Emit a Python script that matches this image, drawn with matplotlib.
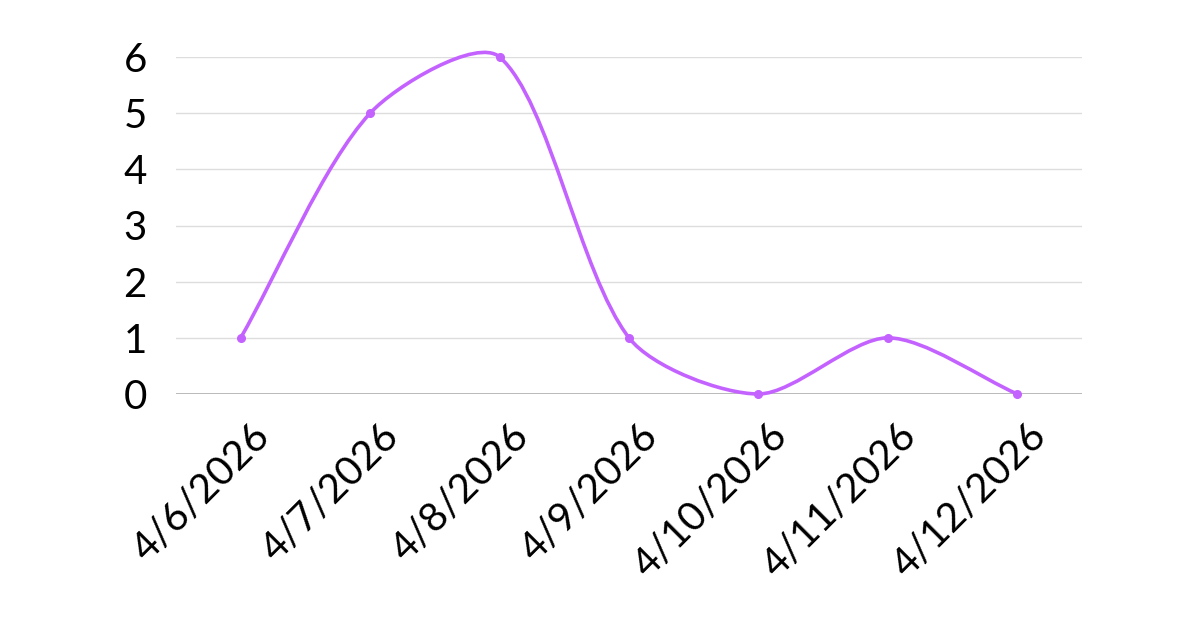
import numpy as np
import matplotlib.pyplot as plt
from matplotlib.path import Path
from matplotlib.patches import PathPatch
import matplotlib.transforms as mtransforms

dates = ["4/6/2026", "4/7/2026", "4/8/2026", "4/9/2026",
         "4/10/2026", "4/11/2026", "4/12/2026"]
counts = [1, 5, 6, 1, 0, 1, 0]
y_ticks = [0, 1, 2, 3, 4, 5, 6]

LINE = "#c462ff"
FONT = ["Lato", "DejaVu Sans"]


def spline_path(px, tension=0.28):
    # chart.js style cubic bezier through points (pixel space)
    n = len(px)
    cps = []
    for i in range(n):
        prev = px[max(i - 1, 0)]
        cur = px[i]
        nxt = px[min(i + 1, n - 1)]
        d01 = np.hypot(*(cur - prev))
        d12 = np.hypot(*(nxt - cur))
        tot = d01 + d12
        s01 = d01 / tot if tot else 0
        s12 = d12 / tot if tot else 0
        fa = tension * s01
        fb = tension * s12
        cps.append((cur - fa * (nxt - prev), cur + fb * (nxt - prev)))
    verts = [px[0]]
    codes = [Path.MOVETO]
    for i in range(n - 1):
        verts += [cps[i][1], cps[i + 1][0], px[i + 1]]
        codes += [Path.CURVE4] * 3
    return np.array(verts), codes


fig = plt.figure(figsize=(12, 6.28), dpi=100)
ax = fig.add_axes([176 / 1200, (628 - 394) / 628, (1082 - 176) / 1200, 337 / 628])
ax.set_xlim(-0.5, len(dates) - 0.5)
ax.set_ylim(0, 6)

x = np.arange(len(dates))
pts = ax.transData.transform(np.column_stack([x, counts]))
verts, codes = spline_path(pts)
verts = ax.transData.inverted().transform(verts)
ax.add_patch(PathPatch(Path(verts, codes), fill=False, edgecolor=LINE,
                       linewidth=2.6, zorder=3, clip_on=False))
ax.plot(x, counts, "o", color=LINE, markersize=5.5, zorder=4, clip_on=False)

for s in ax.spines.values():
    s.set_visible(False)
ax.set_yticks(y_ticks)
ax.grid(axis="y", color="#dddddd", linewidth=1)
ax.axhline(0, color="#b5b5b5", linewidth=1.3, zorder=2)
ax.tick_params(length=0, colors="black")
ax.tick_params(axis="y", pad=21)
ax.set_yticklabels([str(v) for v in y_ticks], family=FONT, fontsize=29,
                   color="black")

# x labels drawn by hand so they can be nudged
ax.set_xticks(x)
ax.set_xticklabels([])
lab_tr = ax.get_xaxis_transform() + mtransforms.ScaledTranslation(
    0.10, -0.23, fig.dpi_scale_trans)
for xi, d in zip(x, dates):
    ax.text(xi, 0, d, transform=lab_tr, family=FONT, fontsize=29,
            color="black", rotation=45, ha="right", va="top",
            rotation_mode="anchor", clip_on=False)

fig.savefig("out.png", dpi=100)
